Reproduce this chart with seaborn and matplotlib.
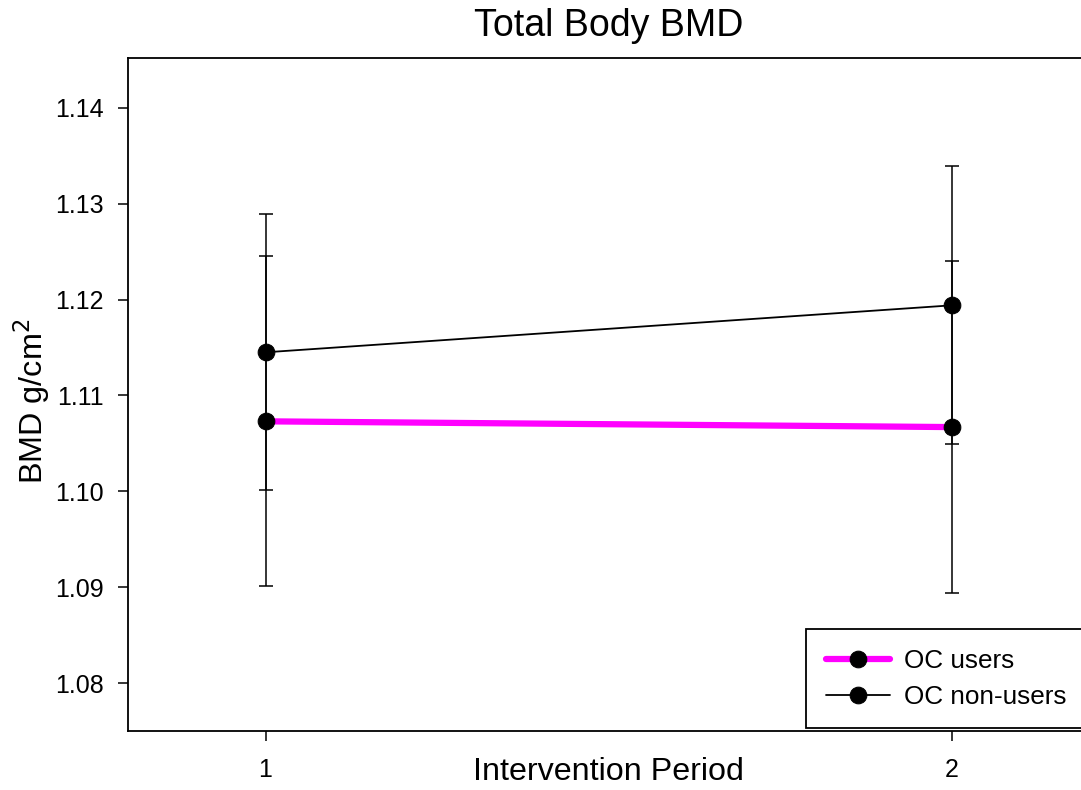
import numpy as np
import pandas as pd
import matplotlib
matplotlib.use("Agg")
import matplotlib.pyplot as plt
import seaborn as sns

# -------------------------------
# Data
periods = [1, 2]
users_bmd = [1.1073, 1.1067]
users_err = [0.0172, 0.0173]
nonusers_bmd = [1.1145, 1.1194]
nonusers_err = [0.0144, 0.0145]

df = pd.DataFrame({
    "period": periods * 2,
    "bmd": users_bmd + nonusers_bmd,
    "err": users_err + nonusers_err,
    "group": ["OC users"] * 2 + ["OC non-users"] * 2,
})

# -------------------------------
sns.set_style("ticks")
plt.rcParams['font.family'] = ['Liberation Sans', 'DejaVu Sans']
plt.rcParams['text.color'] = 'black'
plt.rcParams['axes.labelcolor'] = 'black'

fig = plt.figure(figsize=(10.81, 7.90), dpi=100)
ax = fig.add_axes([0.1187, 0.0747, 0.8887, 0.8519])

# error bars first so lines / markers sit on top
for g in ["OC users", "OC non-users"]:
    sub = df[df["group"] == g]
    ax.errorbar(sub["period"], sub["bmd"], yerr=sub["err"], fmt="none",
                ecolor="black", elinewidth=1.1, capsize=5, capthick=1.1, zorder=2)

users = df[df["group"] == "OC users"]
nonusers = df[df["group"] == "OC non-users"]

sns.lineplot(data=users, x="period", y="bmd", ax=ax, color="#ff00ff", linewidth=4.5,
             marker="o", markersize=12, markerfacecolor="black", markeredgecolor="black",
             label="OC users", zorder=3)
sns.lineplot(data=nonusers, x="period", y="bmd", ax=ax, color="black", linewidth=1.3,
             marker="o", markersize=12, markerfacecolor="black", markeredgecolor="black",
             label="OC non-users", zorder=3)

ax.set_xlim(0.8, 2.2)
ax.set_ylim(1.075, 1.1452)
ax.set_xticks(periods)
ax.set_xticklabels(["1", "2"])
ax.set_yticks(np.arange(1.08, 1.1401, 0.01))
ax.yaxis.set_major_formatter(matplotlib.ticker.FormatStrFormatter("%.2f"))
ax.tick_params(axis="both", direction="out", length=7.2, width=1.1, labelsize=18,
               colors="black")
ax.tick_params(axis="x", pad=12)
ax.tick_params(axis="y", pad=10.5)
for s in ax.spines.values():
    s.set_linewidth(1.3)
    s.set_color("black")

ax.set_title("Total Body BMD", fontsize=27, pad=16)
ax.set_xlabel("Intervention Period", fontsize=23.2, labelpad=-18)
ax.set_ylabel("BMD g/cm$^2$", fontsize=23.3)
ax.yaxis.set_label_coords(-0.078, 0.49)

leg = ax.legend(loc="lower right", fontsize=18.8, handlelength=2.45, handletextpad=0.55,
                borderaxespad=0.1, borderpad=0.75, labelspacing=0.45, fancybox=False,
                frameon=True, edgecolor="black", framealpha=1)
leg.get_frame().set_linewidth(1.3)

plt.savefig("out.png", dpi=100)
